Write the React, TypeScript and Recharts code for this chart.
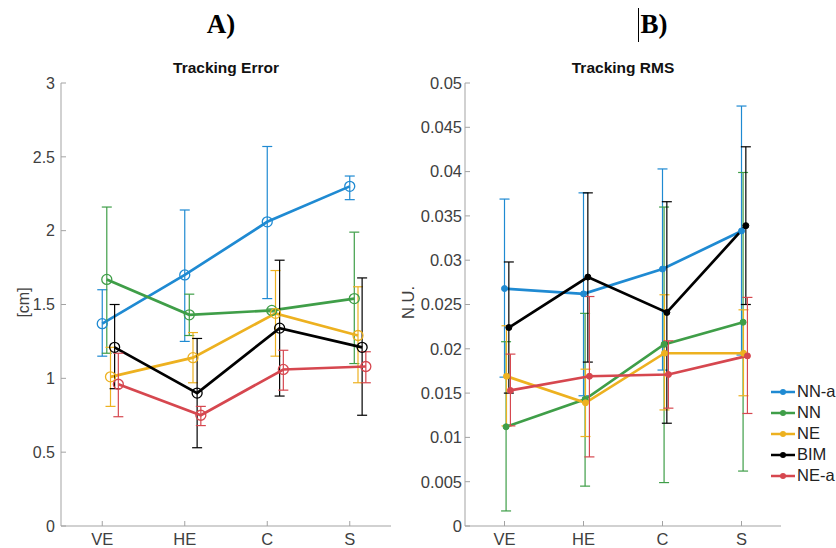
import { ComposedChart, Line, XAxis, YAxis, ErrorBar } from "recharts";

const categories = ["VE", "HE", "C", "S"];
const seriesNames = ["NN-a", "NN", "NE", "BIM", "NE-a"];
const seriesColors = ["#1f8ad2", "#3f9e48", "#edb120", "#000000", "#d6474f"];

// Tracking Error [cm]: mean, lower and upper error-bar ends
const teNNa = [1.37, 1.7, 2.06, 2.3];
const teNNaLow = [1.15, 1.25, 1.54, 2.21];
const teNNaHigh = [1.6, 2.14, 2.57, 2.37];
const teNN = [1.67, 1.43, 1.46, 1.54];
const teNNLow = [1.17, 1.29, 1.45, 1.1];
const teNNHigh = [2.16, 1.57, 1.47, 1.99];
const teNE = [1.01, 1.14, 1.44, 1.29];
const teNELow = [0.81, 0.97, 1.15, 0.97];
const teNEHigh = [1.21, 1.31, 1.73, 1.62];
const teBIM = [1.21, 0.9, 1.34, 1.21];
const teBIMLow = [0.93, 0.53, 0.88, 0.75];
const teBIMHigh = [1.5, 1.27, 1.8, 1.68];
const teNEa = [0.96, 0.75, 1.06, 1.08];
const teNEaLow = [0.74, 0.68, 0.92, 0.97];
const teNEaHigh = [1.17, 0.81, 1.19, 1.18];

// Tracking RMS [N.U.]
const rmsNNa = [0.0268, 0.0262, 0.029, 0.0333];
const rmsNNaLow = [0.0168, 0.0147, 0.0176, 0.0193];
const rmsNNaHigh = [0.0369, 0.0376, 0.0403, 0.0474];
const rmsNN = [0.0112, 0.0143, 0.0205, 0.023];
const rmsNNLow = [0.0017, 0.0045, 0.0049, 0.0062];
const rmsNNHigh = [0.0208, 0.024, 0.036, 0.0399];
const rmsNE = [0.0169, 0.0139, 0.0195, 0.0195];
const rmsNELow = [0.0113, 0.0101, 0.0131, 0.0147];
const rmsNEHigh = [0.0226, 0.0177, 0.0261, 0.0244];
const rmsBIM = [0.0224, 0.0281, 0.0241, 0.0339];
const rmsBIMLow = [0.015, 0.0185, 0.0116, 0.025];
const rmsBIMHigh = [0.0298, 0.0376, 0.0366, 0.0428];
const rmsNEa = [0.0153, 0.0169, 0.0171, 0.0192];
const rmsNEaLow = [0.0113, 0.0078, 0.0133, 0.0127];
const rmsNEaHigh = [0.0194, 0.0259, 0.0209, 0.0258];

const teTicks = [0, 0.5, 1, 1.5, 2, 2.5, 3];
const rmsTicks = [0, 0.005, 0.01, 0.015, 0.02, 0.025, 0.03, 0.035, 0.04, 0.045, 0.05];

// small horizontal jitter so the error bars don't sit on top of each other
const teShift = [0, 0.055, 0.1, 0.15, 0.195];
const rmsShift = [0, 0.02, 0.025, 0.055, 0.075];

const build = (mean: number[], low: number[], high: number[], shift: number) =>
  mean.map((m, i) => ({ x: i + 1 + shift, y: m, err: [m - low[i], high[i] - m] }));

const teSeries = [
  build(teNNa, teNNaLow, teNNaHigh, teShift[0]),
  build(teNN, teNNLow, teNNHigh, teShift[1]),
  build(teNE, teNELow, teNEHigh, teShift[2]),
  build(teBIM, teBIMLow, teBIMHigh, teShift[3]),
  build(teNEa, teNEaLow, teNEaHigh, teShift[4]),
];
const rmsSeries = [
  build(rmsNNa, rmsNNaLow, rmsNNaHigh, rmsShift[0]),
  build(rmsNN, rmsNNLow, rmsNNHigh, rmsShift[1]),
  build(rmsNE, rmsNELow, rmsNEHigh, rmsShift[2]),
  build(rmsBIM, rmsBIMLow, rmsBIMHigh, rmsShift[3]),
  build(rmsNEa, rmsNEaLow, rmsNEaHigh, rmsShift[4]),
];

const sans = "'Liberation Sans', Arial, sans-serif";
const axisGrey = "#a3a3a3";
const tickText = "#404040";

function YTitle({ viewBox, text, dx, size }: any) {
  const cx = viewBox.x + dx;
  const cy = viewBox.y + viewBox.height / 2 - 2;
  return (
    <text
      x={cx}
      y={cy}
      transform={`rotate(-90 ${cx} ${cy})`}
      textAnchor="middle"
      dominantBaseline="central"
      fontFamily={sans}
      fontSize={size}
      fill={tickText}
    >
      {text}
    </text>
  );
}

function MatlabLegend() {
  return (
    <div style={{ position: "absolute", left: 770, top: 381, fontFamily: sans, fontSize: 16.5, color: "#222" }}>
      {seriesNames.map((n, i) => (
        <div key={n} style={{ display: "flex", alignItems: "center", height: 21 }}>
          <svg width={26} height={10}>
            <line x1={1} y1={5} x2={25} y2={5} stroke={seriesColors[i]} strokeWidth={2.5} />
            <circle cx={13} cy={5} r={3} fill={seriesColors[i]} />
          </svg>
          <span style={{ marginLeft: 1 }}>{n}</span>
        </div>
      ))}
    </div>
  );
}

function Panel({ series, ticks, domain, yLabel, hollow, width, right, yWidth, fs, yLabelDx, tickGap }: any) {
  return (
    <ComposedChart width={width} height={548} margin={{ top: 83, right: right, bottom: 0, left: 0 }}>
      <XAxis
        type="number"
        dataKey="x"
        domain={[0.5, 4.5]}
        ticks={[1, 2, 3, 4]}
        allowDataOverflow
        tickFormatter={(v: number) => categories[Math.round(v) - 1]}
        height={22}
        stroke={axisGrey}
        tickSize={-5}
        tickMargin={12}
        tick={{ fill: tickText, fontSize: 16.5, fontFamily: sans }}
      />
      <YAxis
        type="number"
        domain={domain}
        ticks={ticks}
        allowDataOverflow
        width={yWidth}
        stroke={axisGrey}
        tickSize={-5}
        tickMargin={tickGap}
        tick={{ fill: tickText, fontSize: fs, fontFamily: sans }}
        label={<YTitle text={yLabel} dx={yLabelDx} size={fs} />}
      />
      {series.map((d: any[], i: number) => (
        <Line
          key={seriesNames[i]}
          name={seriesNames[i]}
          data={d}
          dataKey="y"
          stroke={seriesColors[i]}
          strokeWidth={2.7}
          dot={
            hollow
              ? { r: 5, fill: "none", stroke: seriesColors[i], strokeWidth: 1.3 }
              : { r: 3, fill: seriesColors[i], stroke: seriesColors[i], strokeWidth: 1 }
          }
          activeDot={false}
          isAnimationActive={false}
        >
          <ErrorBar
            dataKey="err"
            direction="y"
            width={5}
            stroke={seriesColors[i]}
            strokeWidth={1.2}
            isAnimationActive={false}
          />
        </Line>
      ))}
    </ComposedChart>
  );
}

const titleStyle: any = {
  position: "absolute",
  fontFamily: sans,
  fontWeight: "bold",
  fontSize: 15.5,
  color: "#111",
  transform: "translateX(-50%)",
  whiteSpace: "nowrap",
};
const letterStyle: any = {
  position: "absolute",
  fontFamily: "'Liberation Serif', 'Times New Roman', serif",
  fontWeight: "bold",
  fontSize: 27,
  color: "#000",
  transform: "translateX(-50%)",
};

export default function App() {
  return (
    <div style={{ position: "absolute", left: 0, top: 0, width: 836, height: 548, background: "#fff", overflow: "hidden" }}>
      <div style={{ position: "absolute", left: 0, top: 0 }}>
        <Panel
          series={teSeries}
          ticks={teTicks}
          domain={[0, 3]}
          yLabel="[cm]"
          hollow
          width={400}
          right={9}
          yWidth={61}
          fs={16}
          yLabelDx={23}
          tickGap={11}
        />
      </div>
      <div style={{ position: "absolute", left: 400, top: 0 }}>
        <Panel
          series={rmsSeries}
          ticks={rmsTicks}
          domain={[0, 0.05]}
          yLabel="N.U."
          hollow={false}
          width={436}
          right={55}
          yWidth={65}
          fs={16.5}
          yLabelDx={8}
          tickGap={8}
        />
      </div>
      <MatlabLegend />
      <div style={{ ...titleStyle, left: 226, top: 59 }}>Tracking Error</div>
      <div style={{ ...titleStyle, left: 623, top: 59 }}>Tracking RMS</div>
      <div style={{ ...letterStyle, left: 221, top: 9 }}>A)</div>
      <div style={{ ...letterStyle, left: 654, top: 9 }}>B)</div>
      <div style={{ position: "absolute", left: 638, top: 8, width: 1, height: 34, background: "#000" }} />
    </div>
  );
}
